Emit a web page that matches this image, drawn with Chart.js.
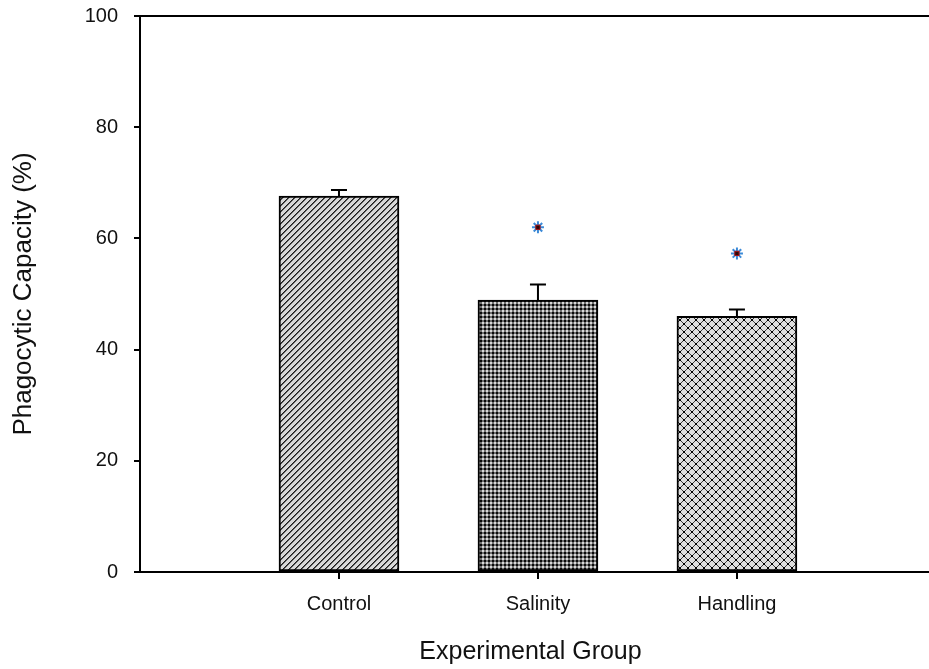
<!DOCTYPE html>
<html>
<head>
<meta charset="utf-8">
<script src="https://cdn.jsdelivr.net/npm/chart.js@4"></script>
<style>
  body { margin: 0; background: #fff; }
</style>
</head>
<body>
<canvas id="myChart" width="929" height="669"></canvas>
<script>
// data
const groups = ['Control', 'Salinity', 'Handling'];
const groupPos = [1, 2, 3];
const capacity = [67.6, 48.9, 46.0];
const sem = [1.1, 2.8, 1.2];
const sigGroups = [2, 3];
const sigY = [62.0, 57.3];
const yTicks = [0, 20, 40, 60, 80, 100];

// hatch fills
function makePattern(size, drawTile) {
  const c = document.createElement('canvas');
  c.width = size; c.height = size;
  const t = c.getContext('2d');
  drawTile(t, size);
  return document.getElementById('myChart').getContext('2d').createPattern(c, 'repeat');
}
const px = (t, x, y, col) => { t.fillStyle = col; t.fillRect(x, y, 1, 1); };

const diagFill = makePattern(6, (t, s) => {
  t.fillStyle = '#d8d8d8'; t.fillRect(0, 0, s, s);
  for (let i = 0; i < s; i++) {
    px(t, i, s - 1 - i, '#1a1a1a');
    px(t, (i + 1) % s, s - 1 - i, '#5e5e5e');
  }
});
const denseFill = makePattern(4, (t, s) => {
  t.fillStyle = '#0a0a0a'; t.fillRect(0, 0, 2, 2);
  t.fillStyle = '#707070'; t.fillRect(2, 0, 2, 2); t.fillRect(0, 2, 2, 2);
  t.fillStyle = '#d8d8d8'; t.fillRect(2, 2, 2, 2);
});
const crossFill = makePattern(8, (t, s) => {
  t.fillStyle = '#dedede'; t.fillRect(0, 0, s, s);
  for (let i = 0; i < s; i++) {
    px(t, i, i, '#3a3a3a');
    px(t, i, s - 1 - i, '#3a3a3a');
  }
  t.fillStyle = '#000';
  t.fillRect(3, 3, 2, 2);
  t.fillRect(0, 0, 1, 1); t.fillRect(7, 7, 1, 1); t.fillRect(0, 7, 1, 1); t.fillRect(7, 0, 1, 1);
});

const errorBars = {
  id: 'errorBars',
  afterDatasetsDraw(chart) {
    const ctx = chart.ctx;
    const meta = chart.getDatasetMeta(0);
    const y = chart.scales.y;
    ctx.save();
    ctx.strokeStyle = '#000';
    ctx.lineWidth = 2;
    meta.data.forEach((bar, i) => {
      const top = y.getPixelForValue(capacity[i] + sem[i]);
      ctx.beginPath();
      ctx.moveTo(bar.x, bar.y);
      ctx.lineTo(bar.x, top);
      ctx.moveTo(bar.x - 8, top);
      ctx.lineTo(bar.x + 8, top);
      ctx.stroke();
    });
    ctx.restore();
  }
};

// frame: top line, and both lines run off the right edge as in the figure
const frame = {
  id: 'frame',
  afterDraw(chart) {
    const ctx = chart.ctx, a = chart.chartArea;
    ctx.save();
    ctx.strokeStyle = '#000';
    ctx.lineWidth = 2;
    ctx.beginPath();
    ctx.moveTo(a.left, a.top);
    ctx.lineTo(chart.width, a.top);
    ctx.moveTo(a.right - 1, a.bottom);
    ctx.lineTo(chart.width, a.bottom);
    ctx.stroke();
    ctx.restore();
  }
};

Chart.defaults.font.family = '"Liberation Sans", Arial, sans-serif';
Chart.defaults.color = '#111';

const ctx = document.getElementById('myChart').getContext('2d');
const myChart = new Chart(ctx, {
  type: 'bar',
  data: {
    datasets: [{
      label: 'Phagocytic Capacity',
      data: groupPos.map((x, i) => ({ x: x, y: capacity[i] })),
      backgroundColor: [diagFill, denseFill, crossFill],
      borderColor: '#000',
      borderWidth: 2,
      borderSkipped: false,
      barThickness: 120,
      order: 2
    }, {
      type: 'scatter',
      label: 'sig',
      data: sigGroups.map((x, i) => ({ x: x, y: sigY[i] })),
      pointStyle: 'star',
      radius: 6,
      borderColor: '#3b8ad8',
      borderWidth: 2,
      order: 1
    }, {
      type: 'scatter',
      label: 'sig2',
      data: sigGroups.map((x, i) => ({ x: x, y: sigY[i] })),
      pointStyle: 'rect',
      radius: 3,
      backgroundColor: '#2a0a0a',
      borderColor: '#b01010',
      borderWidth: 1,
      order: 0
    }]
  },
  options: {
    responsive: false,
    animation: false,
    layout: { padding: { top: 16, right: 0, left: 0, bottom: 0 } },
    plugins: { legend: { display: false }, tooltip: { enabled: false } },
    scales: {
      x: {
        type: 'linear',
        min: 0,
        max: 3.925,
        bounds: 'data',
        offset: false,
        afterBuildTicks: (s) => { s.ticks = groupPos.map(v => ({ value: v })); },
        afterFit: (s) => { s.height = 97; s.paddingLeft = 0; s.paddingRight = 0; },
        ticks: {
          callback: (v) => groups[groupPos.indexOf(v)] || '',
          font: { size: 20 },
          padding: 13,
          maxRotation: 0
        },
        grid: { offset: false, drawOnChartArea: false, color: '#000', lineWidth: 2, tickLength: 7 },
        border: { color: '#000', width: 2 },
        title: {
          display: true,
          text: 'Experimental Group',
          font: { size: 25 },
          padding: { top: 0, bottom: 2 }
        }
      },
      y: {
        min: 0,
        max: 100,
        afterBuildTicks: (s) => { s.ticks = yTicks.map(v => ({ value: v })); },
        afterFit: (s) => { s.width = 140; s.paddingTop = 0; s.paddingBottom = 0; },
        ticks: { font: { size: 20 }, padding: 16 },
        grid: { drawOnChartArea: false, color: '#000', lineWidth: 2, tickLength: 6 },
        border: { color: '#000', width: 2 },
        title: {
          display: true,
          text: 'Phagocytic Capacity (%)',
          font: { size: 26 },
          padding: { top: 8, bottom: 0 }
        }
      }
    }
  },
  plugins: [errorBars, frame]
});
</script>
</body>
</html>
